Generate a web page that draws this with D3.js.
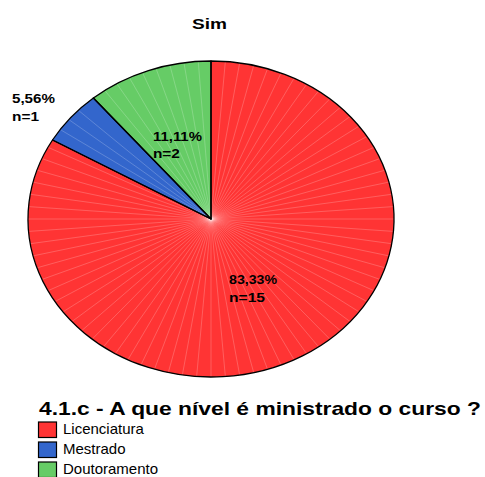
<!DOCTYPE html>
<html>
<head>
<meta charset="utf-8">
<script src="https://cdn.jsdelivr.net/npm/d3@7"></script>
<style>
  body { margin: 0; background: #fff; }
  text { font-family: "Liberation Sans", Arial, sans-serif; fill: #000; }
</style>
</head>
<body>
<div id="chart"></div>
<script>
// values
const categories = ["Licenciatura", "Mestrado", "Doutoramento"];
const counts = [15, 1, 2];
const percentLabels = ["83,33%", "5,56%", "11,11%"];
const colors = ["#ff3434", "#3366cc", "#66cc66"];

const W = 485, H = 477;
const cx = 211, cy = 219, rx = 183, ry = 158;

const svg = d3.select("#chart").append("svg")
    .attr("width", W).attr("height", H);

// bold text in the original is drawn horizontally stretched
function wideText(sel, width) {
    return sel.attr("textLength", width).attr("lengthAdjust", "spacingAndGlyphs");
}

wideText(svg.append("text")
    .attr("x", 192).attr("y", 29)
    .style("font-size", "14px").style("font-weight", "bold")
    .text("Sim"), 35);

const pie = d3.pie().sort(null).value(d => d);
const arcs = pie(counts);

// draw pie on a circle of radius ry, stretched horizontally
const g = svg.append("g")
    .attr("transform", `translate(${cx},${cy}) scale(${rx / ry},1)`);

const arc = d3.arc().innerRadius(0).outerRadius(ry);

g.selectAll("path.slice")
    .data(arcs)
    .enter().append("path")
    .attr("class", "slice")
    .attr("d", arc)
    .attr("fill", (d, i) => colors[i])
    .attr("stroke", "none");

// faint radial shading lines like the original renderer
const step = Math.PI / 40;
arcs.forEach((a) => {
    const angs = d3.range(a.startAngle + step, a.endAngle - step / 2, step);
    g.selectAll(null)
        .data(angs)
        .enter().append("line")
        .attr("x1", 0).attr("y1", 0)
        .attr("x2", t => Math.sin(t) * ry)
        .attr("y2", t => -Math.cos(t) * ry)
        .attr("stroke", "#ffffff")
        .attr("stroke-opacity", 0.3)
        .attr("stroke-width", 0.7)
        .attr("vector-effect", "non-scaling-stroke");
});

g.selectAll("path.edge")
    .data(arcs)
    .enter().append("path")
    .attr("class", "edge")
    .attr("d", arc)
    .attr("fill", "none")
    .attr("stroke", "#000")
    .attr("stroke-width", 1.3)
    .attr("stroke-linejoin", "round")
    .attr("vector-effect", "non-scaling-stroke");

// labels
const labelK = [0.5, 1.18, 0.52];
const labelDx = [-27.7, -33.6, -25.5];
const labelDy = [-3.4, 4, -1];
const pctWidth = [48, 43, 49];
const nWidth = [36, 27, 27];
arcs.forEach((a, i) => {
    const m = (a.startAngle + a.endAngle) / 2;
    const x = cx + Math.sin(m) * rx * labelK[i] + labelDx[i];
    const y = cy - Math.cos(m) * ry * labelK[i] + labelDy[i];
    wideText(svg.append("text")
        .attr("x", x).attr("y", y)
        .style("font-size", "12.5px").style("font-weight", "bold")
        .text(percentLabels[i]), pctWidth[i]);
    wideText(svg.append("text")
        .attr("x", x).attr("y", y + 17.5)
        .style("font-size", "12.5px").style("font-weight", "bold")
        .text("n=" + counts[i]), nWidth[i]);
});

// legend
wideText(svg.append("text")
    .attr("x", 39).attr("y", 415)
    .style("font-size", "19px").style("font-weight", "bold")
    .text("4.1.c - A que nível é ministrado o curso ?"), 442);

const leg = svg.selectAll("g.leg")
    .data(categories)
    .enter().append("g")
    .attr("class", "leg")
    .attr("transform", (d, i) => `translate(38.5,${422 + i * 20})`);

leg.append("rect")
    .attr("width", 18).attr("height", 15.5)
    .attr("fill", (d, i) => colors[i])
    .attr("stroke", "#000").attr("stroke-width", 1.2);

leg.append("text")
    .attr("x", 24.5).attr("y", 12)
    .style("font-size", "15px")
    .text(d => d);
</script>
</body>
</html>
